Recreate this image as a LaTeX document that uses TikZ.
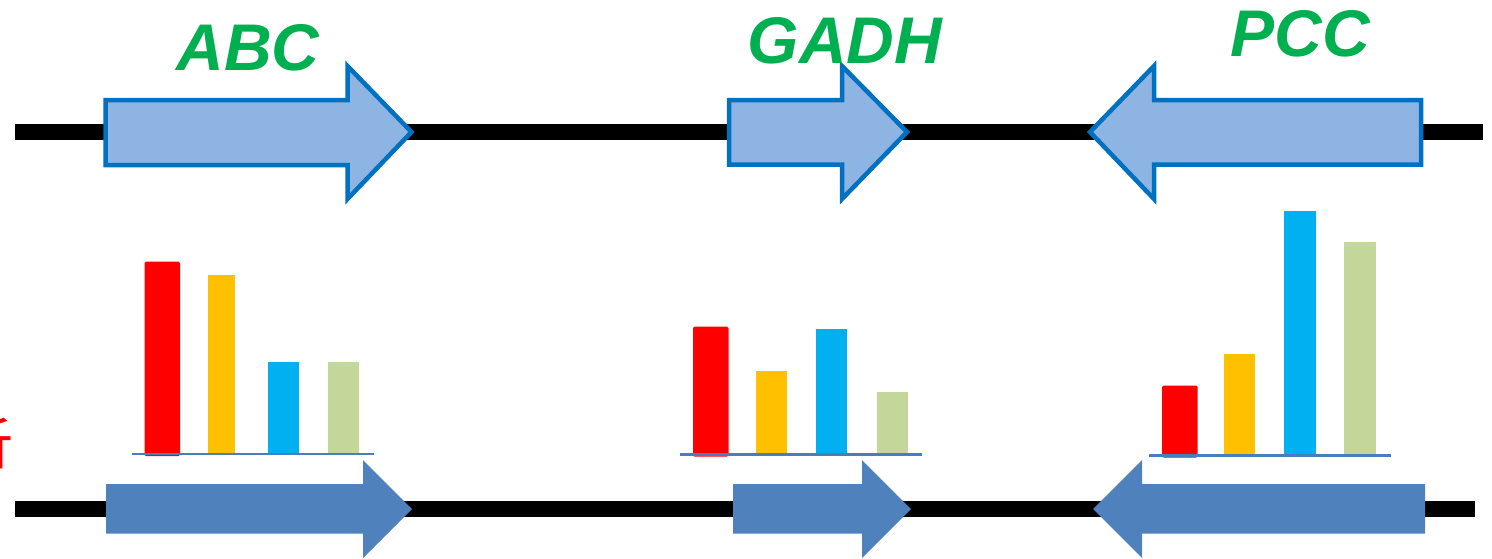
\documentclass[tikz,border=0pt]{standalone}
\usepackage{fontspec}
\setmainfont{Liberation Sans}
\newfontfamily\cjk{Noto Sans CJK SC}
\definecolor{topfill}{HTML}{8EB4E3}
\definecolor{topdraw}{HTML}{0070C0}
\definecolor{botfill}{HTML}{4F81BD}
\definecolor{lblgreen}{HTML}{00B050}
\definecolor{barred}{HTML}{FF0000}
\definecolor{barorange}{HTML}{FFC000}
\definecolor{barblue}{HTML}{00B0F0}
\definecolor{bargreen}{HTML}{C4D79B}
\definecolor{axisblue}{HTML}{4A7EBB}
\tikzset{
  strand/.style={line width=16.5pt, black},
  genetop/.style={fill=topfill, draw=topdraw, line width=4.5pt, miter limit=10},
  genebot/.style={fill=botfill, draw=none},
  genelabel/.style={text=lblgreen, font=\fontsize{66}{66}\selectfont\bfseries\itshape, inner sep=0pt, anchor=base},
  axisline/.style={draw=axisblue, line width=2.2pt},
  barR/.style={fill=barred, rounded corners=1.5pt},
  barO/.style={fill=barorange},
  barB/.style={fill=barblue},
  barG/.style={fill=bargreen},
}
\begin{document}
\begin{tikzpicture}[x=1pt,y=-1pt]
\useasboundingbox (0,0) rectangle (1492,558);
% strands
\coordinate (t1) at (15,132); \coordinate (t2) at (1483,132);
\coordinate (b1) at (15,509); \coordinate (b2) at (1475,509);
\draw[strand] (t1) -- (t2);
\draw[strand] (b1) -- (b2);
% top arrows
\draw[genetop] (105.5,100) -- (347.5,100) -- (347.5,66) -- (411.5,132) -- (347.5,199) -- (347.5,165) -- (105.5,165) -- cycle;
\draw[genetop] (729,100) -- (842,100) -- (842,66) -- (907,132) -- (842,199) -- (842,164.5) -- (729,164.5) -- cycle;
\draw[genetop] (1421,100) -- (1154,100) -- (1154,66) -- (1090,132) -- (1154,199) -- (1154,164.5) -- (1421,164.5) -- cycle;
% labels
\node[genelabel] (abc) at (248,70) {ABC};
\node[genelabel] (gadh) at (845,63) {GADH};
\node[genelabel] (pcc) at (1300,56.5) {PCC};
% bottom arrows
\fill[genebot] (106,484) -- (363,484) -- (363,460) -- (412,509) -- (363,558) -- (363,533.5) -- (106,533.5) -- cycle;
\fill[genebot] (733,484) -- (862,484) -- (862,460) -- (911,509) -- (862,558) -- (862,533.5) -- (733,533.5) -- cycle;
\fill[genebot] (1425,484) -- (1142,484) -- (1142,460) -- (1093,509) -- (1142,558) -- (1142,533.5) -- (1425,533.5) -- cycle;
% chart 1
\fill[barR] (144.5,456) rectangle (180,261.5);
\fill[barO] (208,454) rectangle (235,275);
\fill[barB] (268,454) rectangle (299,362);
\fill[barG] (328,454) rectangle (359,362);
\coordinate (a1l) at (132,454); \coordinate (a1r) at (374,454);
\draw[axisline] (a1l) -- (a1r);
% chart 2
\fill[barR] (693,456.5) rectangle (728.5,326.5);
\fill[barO] (756,454.5) rectangle (787,371);
\fill[barB] (816,454.5) rectangle (847,329);
\fill[barG] (877,454.5) rectangle (908,392);
\coordinate (a2l) at (680,454.5); \coordinate (a2r) at (922,454.5);
\draw[axisline] (a2l) -- (a2r);
% chart 3
\fill[barR] (1162,457.5) rectangle (1197.5,385.5);
\fill[barO] (1224,455.5) rectangle (1255,354);
\fill[barB] (1284,455.5) rectangle (1316,211);
\fill[barG] (1344,455.5) rectangle (1376,242);
\coordinate (a3l) at (1149,455.5); \coordinate (a3r) at (1391,455.5);
\draw[axisline] (a3l) -- (a3r);
% clipped red character at left edge
\begin{scope}
\clip (0,0) rectangle (1492,558);
\node[text=barred, font=\cjk\fontsize{56}{56}\selectfont, inner sep=0pt, anchor=base east] (cut) at (14,464) {析};
\end{scope}
\end{tikzpicture}
\end{document}
